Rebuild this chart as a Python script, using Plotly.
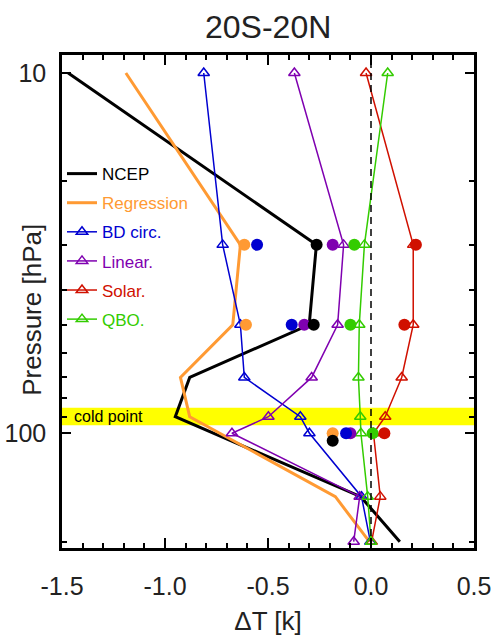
import plotly.graph_objects as go

# ---------------- data ----------------
lev_line = [10, 30, 50, 70, 90, 150, 200]          # NCEP / Regression levels (hPa)
lev_all = [10, 30, 50, 70, 90, 100, 150, 200]       # model component levels (hPa)
lev_dots = [30, 50, 100]                            # filled-circle levels
lev_ncep_dots = [30, 50, 105]

ncep = [-1.47, -0.265, -0.30, -0.88, -0.95, -0.05, 0.14]
regression = [-1.19, -0.634, -0.671, -0.925, -0.88, -0.173, -0.008]
bd_circ = [-0.812, -0.72, -0.634, -0.615, -0.343, -0.299, -0.046, -0.003]
linear = [-0.372, -0.133, -0.162, -0.288, -0.498, -0.675, -0.055, -0.084]
solar = [-0.024, 0.205, 0.205, 0.149, 0.069, 0.012, 0.045, 0.003]
qbo = [0.081, -0.032, -0.057, -0.061, -0.052, -0.049, -0.016, 0.0]

ncep_dots = [-0.264, -0.278, -0.186]
regression_dots = [-0.615, -0.607, -0.186]
bd_dots = [-0.553, -0.385, -0.121]
linear_dots = [-0.186, -0.324, -0.10]
solar_dots = [0.218, 0.162, 0.065]
qbo_dots = [-0.081, -0.10, 0.008]

cold_point = [85, 95]
x_ticks = [-1.5, -1.0, -0.5, 0.0, 0.5]
x_ticktext = ["-1.5", "-1.0", "-0.5", "0.0", "0.5"]
y_ticks = [10, 100]
y_ticktext = ["10", "100"]
y_minor = [20, 30, 40, 50, 60, 70, 80, 90, 200]

BLACK = "#000000"
ORANGE = "#FF9A33"
BLUE = "#0000D0"
PURPLE = "#7F00B0"
RED = "#D01000"
GREEN = "#33CC00"
TXT = "#222222"

FONT = "Liberation Sans, Arial, sans-serif"

fig = go.Figure()

def lab(txt, col):
    return f'<span style="color:{col}">{txt}</span>'

fig.add_trace(go.Scatter(x=ncep, y=lev_line, mode="lines", line=dict(color=BLACK, width=3),
                         name=lab("NCEP", BLACK), legendgroup="a"))
fig.add_trace(go.Scatter(x=regression, y=lev_line, mode="lines", line=dict(color=ORANGE, width=3),
                         name=lab("Regression", ORANGE), legendgroup="b"))
for vals, col, nm, g in [(bd_circ, BLUE, "BD circ.", "c"), (linear, PURPLE, "Linear.", "d"),
                         (solar, RED, "Solar.", "e"), (qbo, GREEN, "QBO.", "f")]:
    fig.add_trace(go.Scatter(x=vals, y=lev_all, mode="lines+markers",
                             line=dict(color=col, width=1.5),
                             marker=dict(symbol="triangle-up-open", size=10, color=col,
                                         line=dict(width=1.5, color=col)),
                             name=lab(nm, col), legendgroup=g))

for vals, col, levs in [(regression_dots, ORANGE, lev_dots), (linear_dots, PURPLE, lev_dots),
                        (bd_dots, BLUE, lev_dots), (qbo_dots, GREEN, lev_dots),
                        (solar_dots, RED, lev_dots), (ncep_dots, BLACK, lev_ncep_dots)]:
    fig.add_trace(go.Scatter(x=vals, y=levs, mode="markers",
                             marker=dict(symbol="circle", size=12, color=col),
                             showlegend=False))

# cold point band
fig.add_shape(type="rect", xref="paper", yref="y", x0=0, x1=1,
              y0=cold_point[0], y1=cold_point[1], fillcolor="#FFFF00",
              line=dict(width=0), layer="below")
# zero line
fig.add_shape(type="line", xref="x", yref="paper", x0=0, x1=0, y0=0, y1=1,
              line=dict(color="black", width=1.5, dash="7px,5px"), layer="above")

fig.add_annotation(text="cold point", xref="paper", yref="y", x=0.024, y=1.954,
                   xanchor="left", yanchor="middle", showarrow=False,
                   font=dict(size=16, color="black", family=FONT))
fig.add_annotation(text="Pressure [hPa]", xref="paper", yref="paper",
                   x=-0.073, y=0.483, xanchor="center", yanchor="middle",
                   textangle=-90, showarrow=False,
                   font=dict(size=26, color=TXT, family=FONT))

fig.update_layout(
    width=492, height=638,
    margin=dict(l=62, r=18, t=55, b=90),
    plot_bgcolor="white", paper_bgcolor="white",
    font=dict(family=FONT, color=TXT),
    title=dict(text="20S-20N", x=0.545, xanchor="center", y=0.958, yanchor="middle",
               font=dict(size=32, color=TXT, family=FONT)),
    showlegend=True,
    legend=dict(x=0.0, y=0.795, xanchor="left", yanchor="top",
                bgcolor="rgba(0,0,0,0)", font=dict(size=17, family=FONT),
                tracegroupgap=4, itemwidth=30),
    xaxis=dict(range=[-1.5, 0.5], tickvals=x_ticks, ticktext=x_ticktext,
               ticks="inside", ticklen=10, tickwidth=1.5, tickcolor="black",
               minor=dict(dtick=0.1, tick0=0, ticks="inside", ticklen=5, tickwidth=1.5,
                          tickcolor="black"),
               showline=True, linecolor="black", linewidth=2.5, mirror="allticks",
               showgrid=False, zeroline=False, automargin=False,
               tickfont=dict(size=25, color=TXT, family=FONT),
               ticklabelstandoff=14,
               title=dict(text="ΔT [k]", font=dict(size=26, color=TXT, family=FONT),
                          standoff=14)),
    yaxis=dict(type="log", range=[2.3186, 0.9501], tickvals=y_ticks, ticktext=y_ticktext,
               ticks="inside", ticklen=9, tickwidth=1.5, tickcolor="black",
               minor=dict(tickvals=y_minor, ticks="inside", ticklen=5, tickwidth=1.5,
                          tickcolor="black"),
               showline=True, linecolor="black", linewidth=2.5, mirror="allticks",
               showgrid=False, zeroline=False, automargin=False,
               tickfont=dict(size=25, color=TXT, family=FONT),
               ticklabelstandoff=8),
)

fig.write_html("out.html", config={"displayModeBar": False},
               post_script="document.body.style.margin='0';document.body.style.overflow='hidden';")
